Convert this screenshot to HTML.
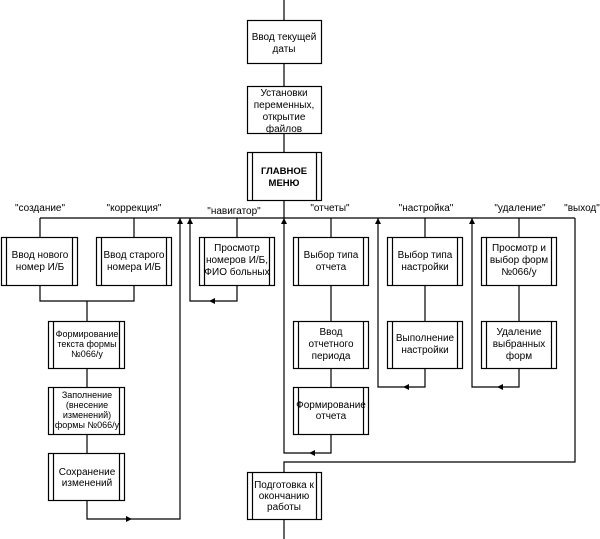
<!DOCTYPE html>
<html><head><meta charset="utf-8"><style>body{margin:0;background:#fff}svg{display:block}text{font-family:"Liberation Sans",Arial,sans-serif;font-size:10px;fill:#000;text-anchor:middle}.s{font-size:9px}</style></head><body>
<svg width="600" height="539" viewBox="0 0 600 539" xmlns="http://www.w3.org/2000/svg">
<defs>
<g id="up"><path d="M-3,5 L3,5 L0,-1 Z" fill="#000"/></g>
</defs>
<g stroke="#000" stroke-width="1.2" fill="none">
<path d="M284,0V20M284,63V86M284,133V152M284,200V218"/>
<path d="M40,218H575"/>
<path d="M40,218V237M134,218V237M40,285V301H134V285M87,301V321M87,368V387M87,434V453M87,500V519H180V218"/>
<path d="M237,218V237M237,285V301H190V218"/>
<path d="M331,218V237M331,285V321M331,368V387M331,434V453H284V218"/>
<path d="M425,218V237M425,285V321M425,368V387H378V218"/>
<path d="M519,218V237M519,285V321M519,368V387H472V218"/>
<path d="M575,218V462H284V472M284,519V539"/>
<rect x="247.5" y="20.5" width="74" height="43" fill="#fff"/>
<rect x="247.5" y="86.5" width="74" height="47" fill="#fff"/>
<g fill="#fff">
<rect x="247.5" y="152.5" width="74" height="48"/>
<rect x="1.5" y="237.5" width="76" height="48"/>
<rect x="96.5" y="237.5" width="75" height="48"/>
<rect x="199.5" y="237.5" width="75" height="48"/>
<rect x="293.5" y="237.5" width="75" height="48"/>
<rect x="293.5" y="321.5" width="75" height="47"/>
<rect x="293.5" y="387.5" width="75" height="47"/>
<rect x="387.5" y="237.5" width="75" height="48"/>
<rect x="387.5" y="321.5" width="75" height="47"/>
<rect x="481.5" y="237.5" width="75" height="48"/>
<rect x="481.5" y="321.5" width="75" height="47"/>
<rect x="48.5" y="321.5" width="76" height="47"/>
<rect x="48.5" y="387.5" width="76" height="47"/>
<rect x="48.5" y="453.5" width="76" height="47"/>
<rect x="247.5" y="472.5" width="74" height="47"/>
</g>
<path d="M252.5,152V200M316.5,152V200M6.5,237V285M72.5,237V285M101.5,237V285M166.5,237V285M204.5,237V285M269.5,237V285M298.5,237V285M363.5,237V285M298.5,321V368M363.5,321V368M298.5,387V434M363.5,387V434M392.5,237V285M457.5,237V285M392.5,321V368M457.5,321V368M486.5,237V285M551.5,237V285M486.5,321V368M551.5,321V368M53.5,321V368M119.5,321V368M53.5,387V434M119.5,387V434M53.5,453V500M119.5,453V500M252.5,472V519M316.5,472V519"/>
</g>
<g fill="#000">
<path d="M177,224L183,224L180,218Z"/><path d="M187,224L193,224L190,218Z"/><path d="M281,224L287,224L284,218Z"/><path d="M375,224L381,224L378,218Z"/><path d="M469,224L475,224L472,218Z"/>
<path d="M215,298L215,304L209,301Z"/><path d="M315,450L315,456L309,453Z"/><path d="M409,384L409,390L403,387Z"/><path d="M503,384L503,390L497,387Z"/><path d="M126,516L126,522L132,519Z"/>
</g>
<text x="284" y="40">Ввод текущей</text><text x="284" y="52">даты</text>
<text x="284" y="96">Установки</text><text x="284" y="108">переменных,</text><text x="284" y="120">открытие</text><text x="284" y="132">файлов</text>
<text x="284" y="174" style="font-weight:bold;font-size:9.5px">ГЛАВНОЕ</text><text x="284" y="186" style="font-weight:bold;font-size:9.5px">МЕНЮ</text>
<text x="40" y="211">"создание"</text><text x="134" y="211">"коррекция"</text><text x="234" y="214">"навигатор"</text><text x="330" y="211">"отчеты"</text><text x="426" y="211">"настройка"</text><text x="520" y="211">"удаление"</text><text x="582" y="211">"выход"</text>
<text x="40" y="258">Ввод нового</text><text x="40" y="270">номер И/Б</text>
<text x="134" y="258">Ввод старого</text><text x="134" y="270">номера И/Б</text>
<text x="237" y="251">Просмотр</text><text x="237" y="263">номеров И/Б,</text><text x="237" y="275">ФИО больных</text>
<text x="331" y="258">Выбор типа</text><text x="331" y="270">отчета</text>
<text x="331" y="335">Ввод</text><text x="331" y="347">отчетного</text><text x="331" y="359">периода</text>
<text x="331" y="408">Формирование</text><text x="331" y="419">отчета</text>
<text x="425" y="258">Выбор типа</text><text x="425" y="270">настройки</text>
<text x="425" y="341">Выполнение</text><text x="425" y="353">настройки</text>
<text x="519" y="251">Просмотр и</text><text x="519" y="263">выбор форм</text><text x="519" y="275">№066/у</text>
<text x="519" y="335">Удаление</text><text x="519" y="347">выбранных</text><text x="519" y="359">форм</text>
<text class="s" x="87" y="337">Формирование</text><text class="s" x="87" y="347">текста формы</text><text class="s" x="87" y="357">№066/у</text>
<text class="s" x="87" y="398">Заполнение</text><text class="s" x="87" y="408">(внесение</text><text class="s" x="87" y="418">изменений)</text><text class="s" x="87" y="428">формы №066/у</text>
<text x="87" y="475">Сохранение</text><text x="87" y="486">изменений</text>
<text x="284" y="488">Подготовка к</text><text x="284" y="499">окончанию</text><text x="284" y="510">работы</text>
</svg>
</body></html>
